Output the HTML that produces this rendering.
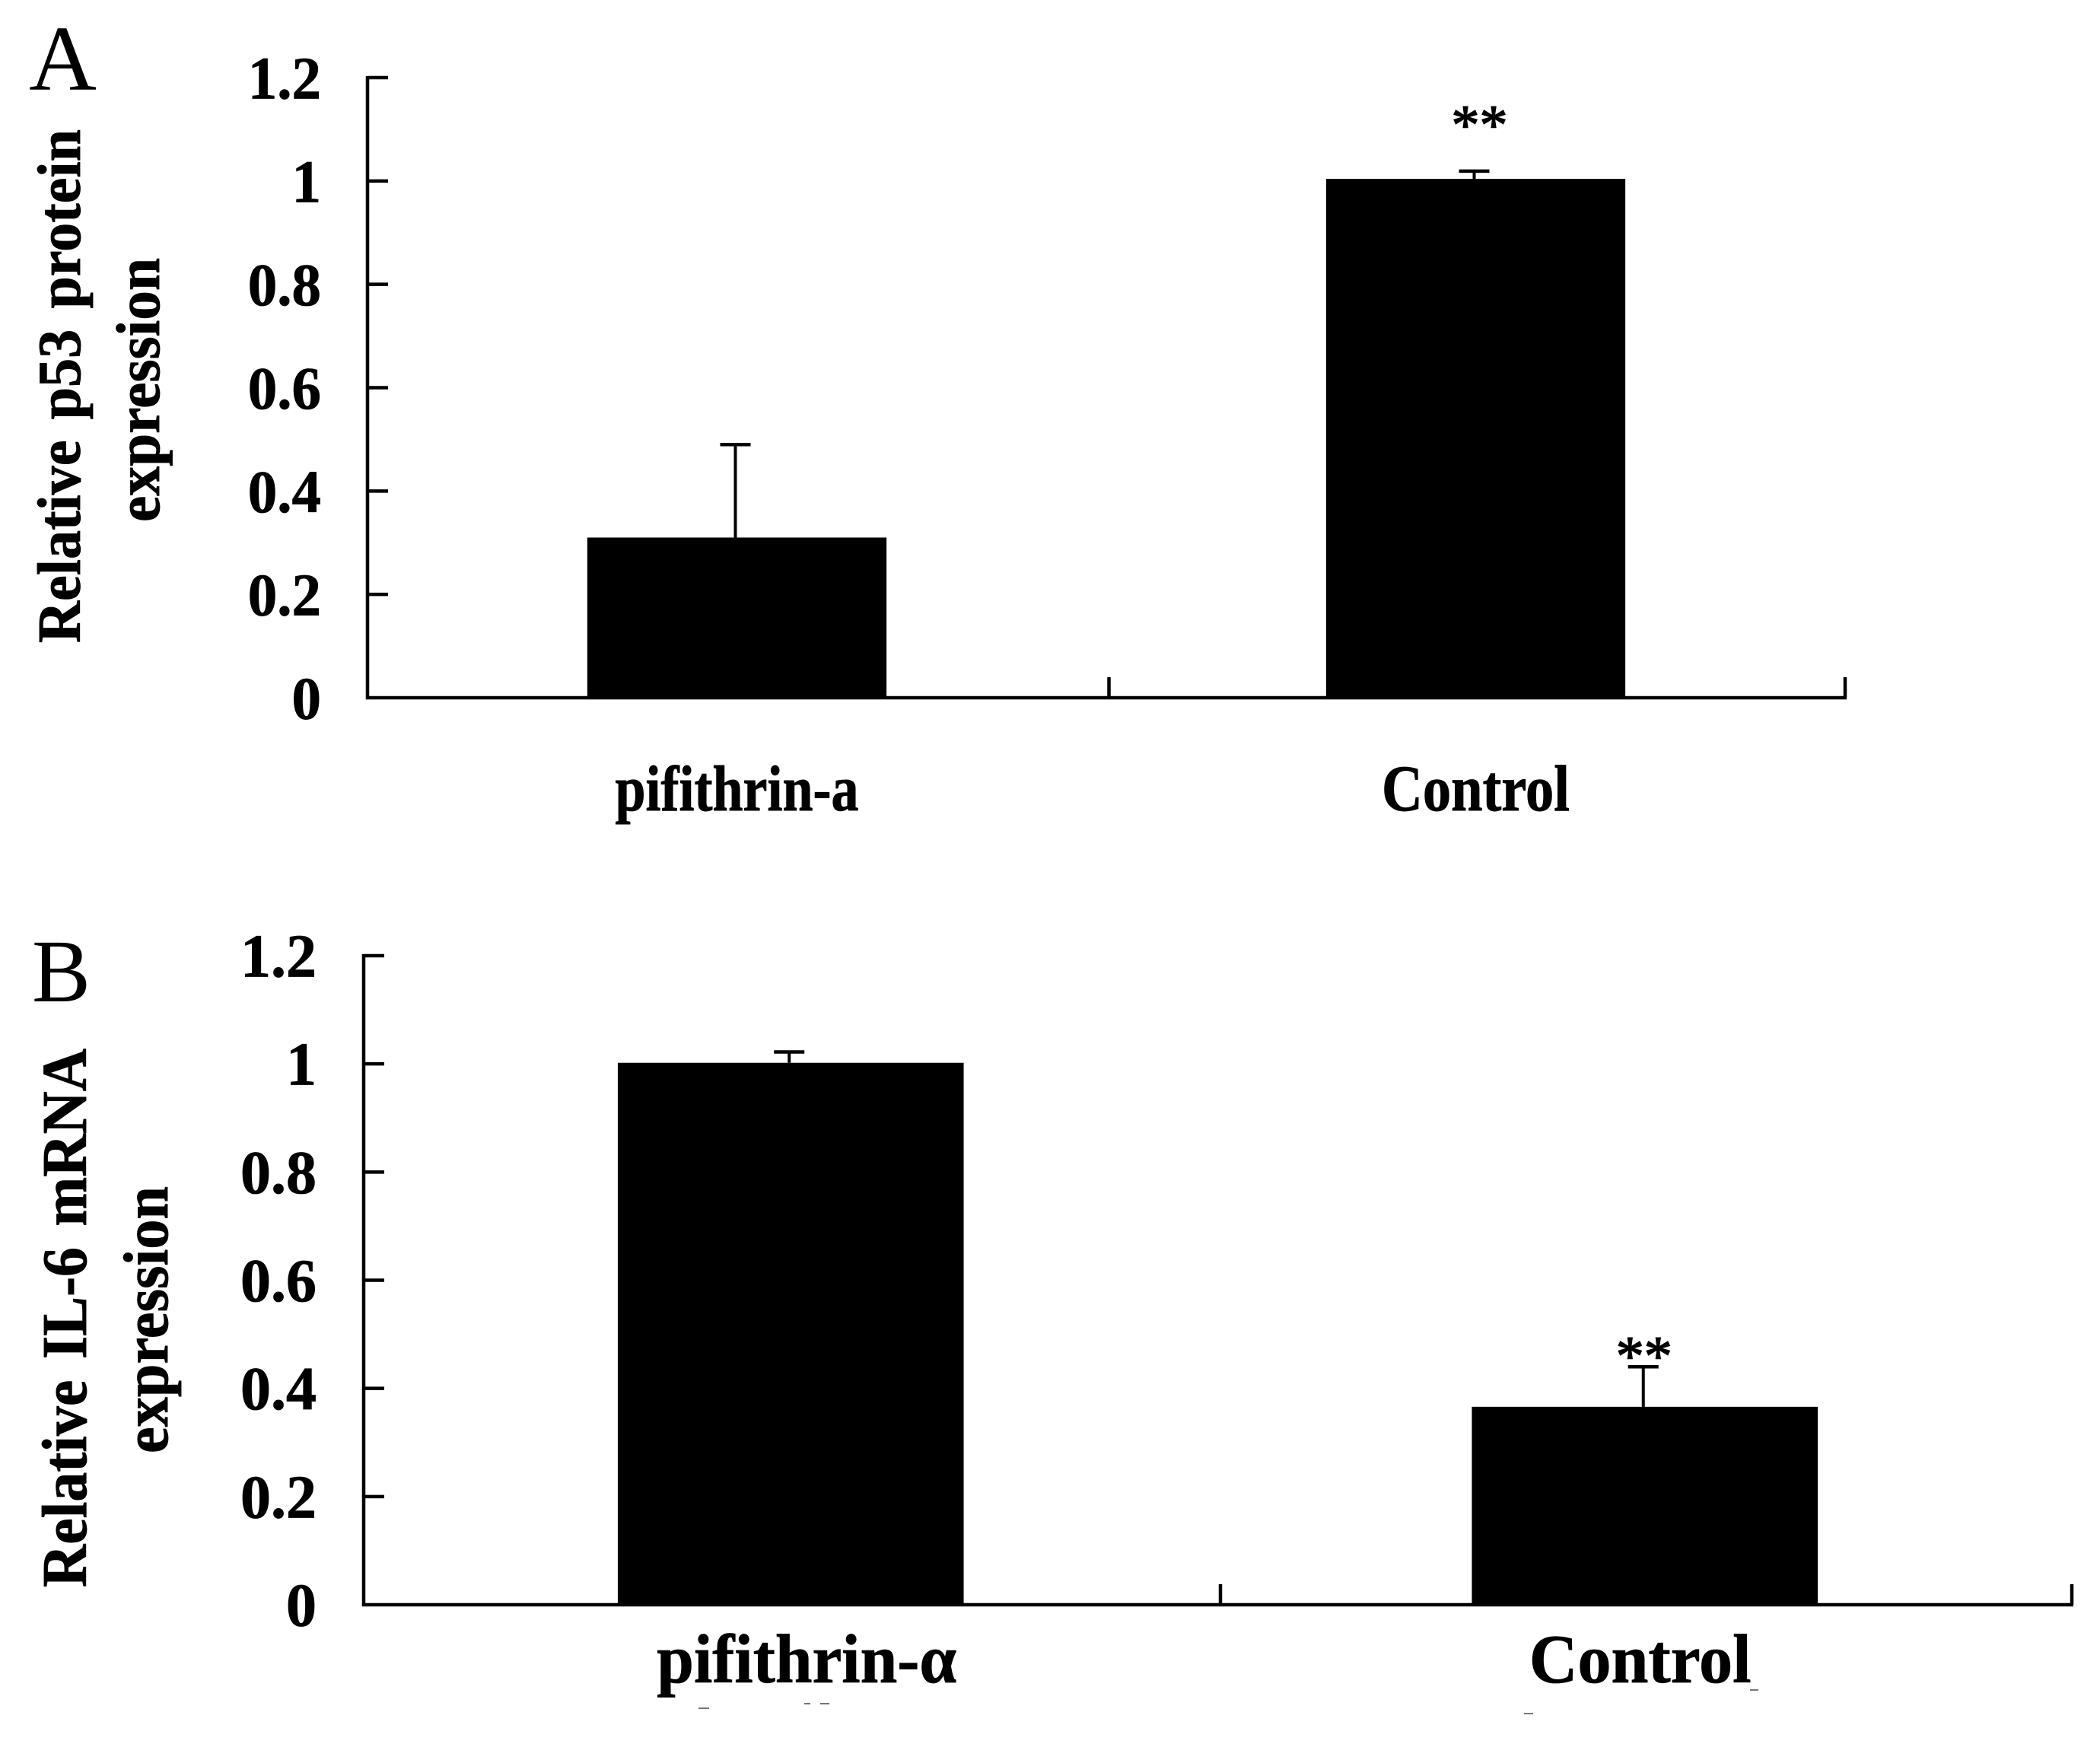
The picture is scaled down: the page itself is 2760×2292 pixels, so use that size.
<!DOCTYPE html>
<html lang="en">
<head>
<meta charset="utf-8">
<title>Relative p53 protein and IL-6 mRNA expression</title>
<style>
html,body{margin:0;padding:0;background:#fff;}
svg{display:block;}
text{font-family:"Liberation Serif",serif;fill:#000;}
text[font-weight="bold"]{stroke:#000;stroke-width:0.8px;}
</style>
</head>
<body>
<svg id="figure" xmlns="http://www.w3.org/2000/svg" width="2760" height="2292" viewBox="0 0 2760 2292">
  <rect x="0" y="0" width="2760" height="2292" fill="#fff"/>
  <text x="38" y="118" font-size="122" textLength="89" lengthAdjust="spacingAndGlyphs">A</text>
  <text x="42" y="1316" font-size="118" textLength="77" lengthAdjust="spacingAndGlyphs">B</text>
  <text transform="translate(105,845) rotate(-90) scale(1,1.06)" font-size="76" font-weight="bold" word-spacing="8" textLength="675" lengthAdjust="spacingAndGlyphs">Relative p53 protein</text>
  <text transform="translate(209,686) rotate(-90) scale(1,1.06)" font-size="77" font-weight="bold" textLength="347" lengthAdjust="spacingAndGlyphs">expression</text>
  <text transform="translate(113,2086) rotate(-90) scale(1,1.07)" font-size="78" font-weight="bold" word-spacing="8" textLength="708" lengthAdjust="spacingAndGlyphs">Relative IL-6 mRNA</text>
  <text transform="translate(220,1910) rotate(-90) scale(1,1.07)" font-size="78" font-weight="bold" textLength="351" lengthAdjust="spacingAndGlyphs">expression</text>
  <g fill="#777">
    <rect x="918" y="2244" width="14" height="2"/>
    <rect x="1057" y="2238" width="8" height="2"/>
    <rect x="1078" y="2238" width="12" height="2"/>
    <rect x="2300" y="2220" width="11" height="2"/>
    <rect x="2003" y="2251" width="12" height="2"/>
  </g>
</svg>
<script>
// Panel A data
const categoriesA = ['pifithrin-a', 'Control'];
const valuesA = [0.31, 1.004];
const errorsA = [0.18, 0.015];
const significanceA = ['', '**'];
const tickLabelsA = ['0', '0.2', '0.4', '0.6', '0.8', '1', '1.2'];
const tickValuesA = [0, 0.2, 0.4, 0.6, 0.8, 1, 1.2];

// Panel B data
const categoriesB = ['pifithrin-\u03B1', 'Control'];
const valuesB = [1.002, 0.366];
const errorsB = [0.02, 0.074];
const significanceB = ['', '**'];
const tickLabelsB = ['0', '0.2', '0.4', '0.6', '0.8', '1', '1.2'];
const tickValuesB = [0, 0.2, 0.4, 0.6, 0.8, 1, 1.2];

const SVG_NS = 'http://www.w3.org/2000/svg';
const root = document.getElementById('figure');

function makeLine(x1, y1, x2, y2, w) {
  const el = document.createElementNS(SVG_NS, 'line');
  el.setAttribute('x1', x1);
  el.setAttribute('y1', y1);
  el.setAttribute('x2', x2);
  el.setAttribute('y2', y2);
  el.setAttribute('stroke', '#000');
  el.setAttribute('stroke-width', w);
  root.appendChild(el);
  return el;
}

function makeText(str, x, y, size, sy, anchor, weight) {
  const el = document.createElementNS(SVG_NS, 'text');
  el.textContent = str;
  el.setAttribute('transform', 'translate(' + x + ',' + y + ') scale(1,' + sy + ')');
  el.setAttribute('font-size', size);
  el.setAttribute('text-anchor', anchor);
  el.setAttribute('font-weight', weight);
  root.appendChild(el);
  return el;
}

function drawPanel(p) {
  const yScale = v => p.y0 + (p.y1 - p.y0) * v / p.maxValue;
  const band = (p.x1 - p.x0) / p.categories.length;
  const xCenter = i => p.x0 + band * (i + 0.5);
  const barWidth = band * p.barRatio;

  // y axis
  const yAxis = makeLine(p.x0, yScale(p.maxValue) - 2, p.x0, p.y0 + 2, 4.5);
  
  

  // x axis
  const xAxis = makeLine(p.x0 - 2, p.y0, p.x1 + 2, p.y0, 4.5);
  
  

  // y ticks and labels
  p.tickValues.forEach((v, i) => {
    if (v !== 0) {
      const t = makeLine(p.x0, yScale(v), p.x0 + 27, yScale(v), 4.5);
      
      
    }
    const lab = makeText(p.tickLabels[i], p.labelRight, yScale(v) + 27.5, p.tickSize, p.tickScale, 'end', 'bold');
    
    
  });

  // x ticks at band edges
  for (let i = 1; i <= p.categories.length; i++) {
    const xt = p.x0 + band * i + (i < p.categories.length ? p.midTickDx : 0);
    const t = makeLine(xt, p.y0, xt, p.y0 - 27, 4.5);
    
    
  }

  // bars, error bars, significance marks, category labels
  p.categories.forEach((cat, i) => {
    const cx = xCenter(i);
    const top = yScale(p.values[i]);
    const errTop = yScale(p.values[i] + p.errors[i]);

    const bar = document.createElementNS(SVG_NS, 'rect');
    bar.setAttribute('x', cx - barWidth / 2);
    bar.setAttribute('y', top);
    bar.setAttribute('width', barWidth);
    bar.setAttribute('height', p.y0 - top + 2);
    bar.setAttribute('fill', '#000');
    
    
    root.appendChild(bar);

    const stem = makeLine(cx - 2, top, cx - 2, errTop, 4);
    
    

    const cap = makeLine(cx - 22, errTop, cx + 18, errTop, 4.5);
    
    

    if (p.significance[i]) {
      const star = makeText(p.significance[i], cx + p.starDx, errTop + p.starDy, 74, 1, 'middle', 'normal');
      star.setAttribute('stroke', '#000');
      star.setAttribute('stroke-width', '1.5');
      
      
    }

    const lab = makeText(cat, cx + p.catDx[i], p.catBaseline, p.catSize[i], p.catScale[i], 'middle', 'bold');
    
    
  });
}

drawPanel({
  id: 'a', categories: categoriesA, values: valuesA, errors: errorsA,
  significance: significanceA, tickLabels: tickLabelsA, tickValues: tickValuesA,
  maxValue: 1.2, x0: 483, x1: 2425, y0: 917, y1: 102, barRatio: 0.405, midTickDx: 3.5,
  labelRight: 422, tickSize: 77, tickScale: 1.03, catSize: [72, 74.5], catScale: [1.18, 1.15],
  catBaseline: 1065, catDx: [0, 0], starDx: 5, starDy: -36
});

drawPanel({
  id: 'b', categories: categoriesB, values: valuesB, errors: errorsB,
  significance: significanceB, tickLabels: tickLabelsB, tickValues: tickValuesB,
  maxValue: 1.2, x0: 478, x1: 2723, y0: 2109, y1: 1256, barRatio: 0.405, midTickDx: 3.5,
  labelRight: 416, tickSize: 80, tickScale: 1.0, catSize: [87.5, 88], catScale: [1.04, 1.04],
  catBaseline: 2211, catDx: [21, -6], starDx: -1, starDy: 11
});
</script>
</body>
</html>
